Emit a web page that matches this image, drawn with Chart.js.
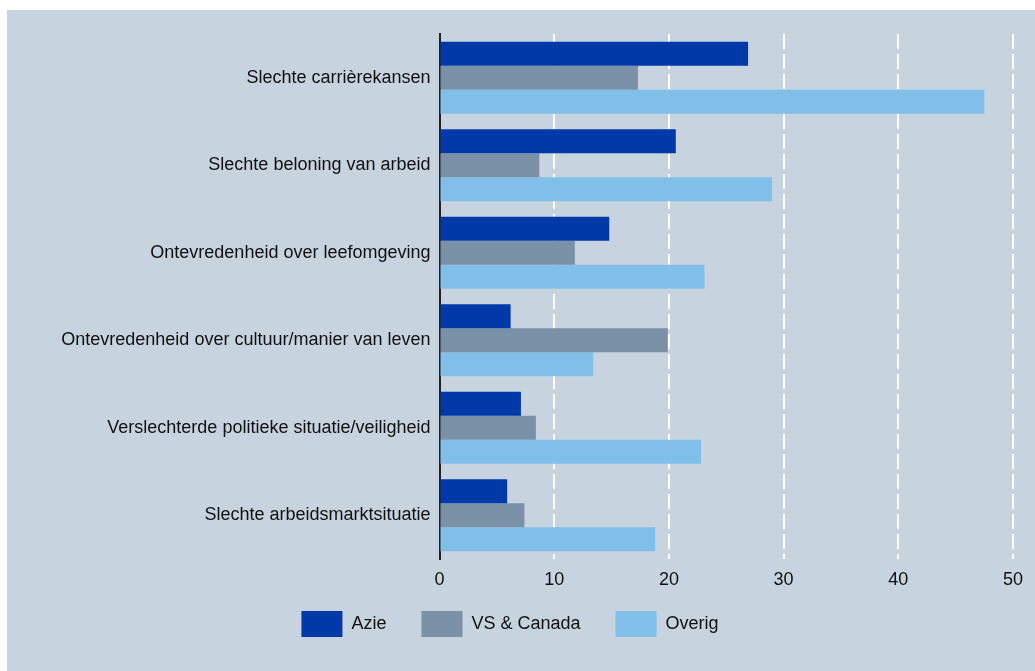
<!DOCTYPE html>
<html>
<head>
<meta charset="utf-8">
<script src="https://cdn.jsdelivr.net/npm/chart.js@4/dist/chart.umd.min.js"></script>
<style>
  html, body { margin: 0; padding: 0; background: #ffffff; }
  #wrap {
    position: absolute; left: 7px; top: 10px;
    width: 1028px; height: 661px;
    background: #c7d3df;
  }
</style>
</head>
<body>
<div id="wrap"><canvas id="chart" width="1028" height="661"></canvas></div>
<script>
// Categorieën (redenen voor vertrek)
const categories = [
    'Slechte carrièrekansen',
    'Slechte beloning van arbeid',
    'Ontevredenheid over leefomgeving',
    'Ontevredenheid over cultuur/manier van leven',
    'Verslechterde politieke situatie/veiligheid',
    'Slechte arbeidsmarktsituatie'
];

// Waarden per regio (procent)
const azie = [26.9, 20.6, 14.8, 6.2, 7.1, 5.9];
const vsCanada = [17.3, 8.7, 11.8, 19.9, 8.4, 7.4];
const overig = [47.5, 29.0, 23.1, 13.4, 22.8, 18.8];

const xTicks = [0, 10, 20, 30, 40, 50];

const labelFont = { family: "'Liberation Sans', Arial, sans-serif", size: 18 };

// Legende iets omhoog schuiven (dichter bij de as-labels)
const legendShift = {
    id: 'legendShift',
    afterLayout: function(chart) {
        if (chart.legend) {
            chart.legend.top -= 21;
            chart.legend.bottom -= 21;
        }
    }
};

const ctx = document.getElementById('chart').getContext('2d');
new Chart(ctx, {
    type: 'bar',
    data: {
        labels: categories,
        datasets: [
            { label: 'Azie', data: azie, backgroundColor: '#0039a8' },
            { label: 'VS & Canada', data: vsCanada, backgroundColor: '#7a91a8' },
            { label: 'Overig', data: overig, backgroundColor: '#80bfea' }
        ]
    },
    options: {
        indexAxis: 'y',
        responsive: false,
        animation: false,
        categoryPercentage: 0.823,
        barPercentage: 1.0,
        layout: { padding: { top: 24, right: 22, bottom: 3, left: 0 } },
        scales: {
            x: {
                min: 0,
                max: 50,
                afterBuildTicks: function(scale) {
                    scale.ticks = xTicks.map(v => ({ value: v }));
                },
                afterFit: function(scale) { scale.height = 38; },
                border: { display: false, dash: [15, 5] },
                grid: {
                    color: function(c) {
                        return c.tick && c.tick.value === 0 ? 'rgba(0,0,0,0)' : '#ffffff';
                    },
                    lineWidth: 2,
                    drawTicks: false
                },
                ticks: { color: '#111111', font: labelFont, padding: 10, maxRotation: 0 }
            },
            y: {
                afterFit: function(scale) { scale.width = 432.5; },
                border: { display: true, color: '#222222', width: 2 },
                grid: { display: false, drawTicks: false },
                ticks: { color: '#111111', font: labelFont, padding: 9 }
            }
        },
        plugins: {
            legend: {
                position: 'bottom',
                labels: {
                    boxWidth: 41,
                    boxHeight: 26,
                    padding: 35,
                    color: '#111111',
                    font: labelFont
                }
            },
            tooltip: { enabled: false }
        }
    },
    plugins: [legendShift]
});
</script>
</body>
</html>
